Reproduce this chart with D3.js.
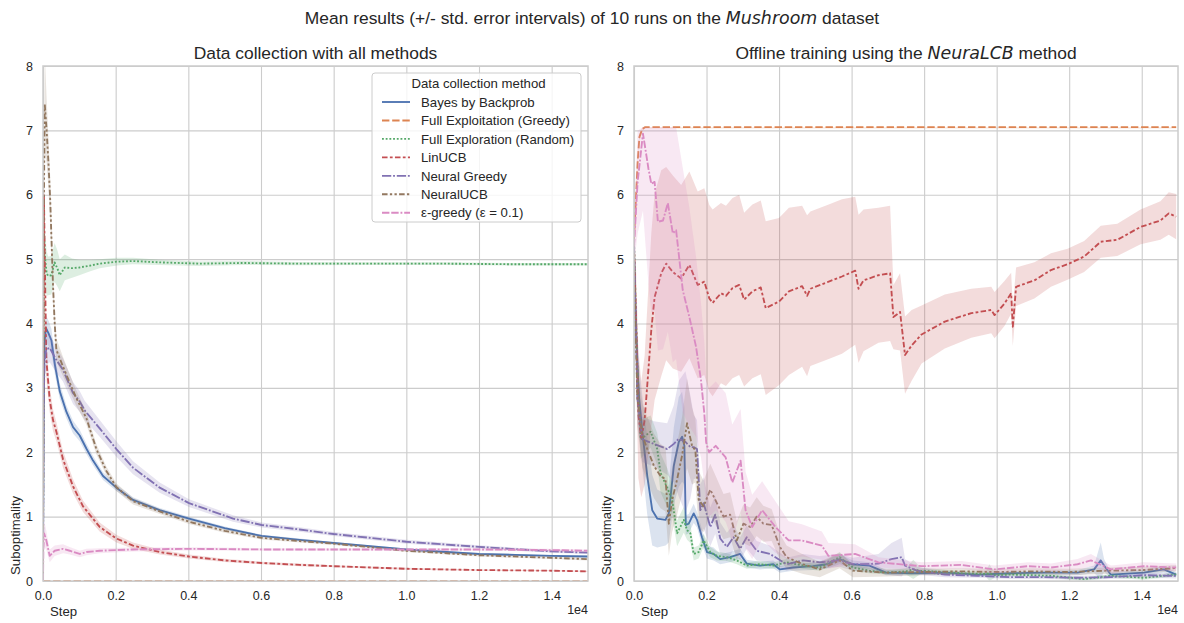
<!DOCTYPE html>
<html><head><meta charset="utf-8">
<script src="https://cdn.jsdelivr.net/npm/d3@7"></script>
<style>
body{margin:0;background:#fff}
svg{display:block}
text{font-family:"Liberation Sans",Arial,sans-serif;fill:#262626}
</style>
</head><body>
<svg id="chart" width="1184" height="623"></svg>
<script>
// ---------- DATA ----------
const methods = ["Bayes by Backprob","Full Exploitation (Greedy)","Full Exploration (Random)","LinUCB","Neural Greedy","NeuralUCB","ε-greedy (ε = 0.1)"];
const xTickValues = [0,2000,4000,6000,8000,10000,12000,14000];
const yTickValues = [0,1,2,3,4,5,6,7,8];
const offlineMax = 7.05;

// [step, mean, std. error] — left panel: data collection
const collectBayes = [[0,0.3,0.3],[15,2.5,0.3],[40,3.7,0.25],[80,3.93,0.2],[150,3.85,0.2],[230,3.74,0.18],[330,3.35,0.15],[460,2.95,0.12],[643,2.63,0.1],[827,2.39,0.1],[1010,2.26,0.09],[1200,2.05,0.08],[1377,1.87,0.07],[1652,1.63,0.06],[2019,1.45,0.05],[2478,1.26,0.04],[3212,1.1,0.035],[4019,0.97,0.03],[5000,0.82,0.025],[6019,0.7,0.02],[7066,0.64,0.02],[8000,0.59,0.015],[9000,0.54,0.015],[10000,0.49,0.015],[11000,0.455,0.015],[12000,0.42,0.015],[13000,0.405,0.015],[14000,0.39,0.015],[15000,0.38,0.015]];
const collectGreedy = [[0,0,0],[5000,0,0],[10000,0,0],[15000,0,0]];
const collectRandom = [[0,0,0],[25,5.4,0.4],[60,5.0,0.4],[100,4.78,0.35],[140,4.74,0.3],[230,4.75,0.3],[320,4.95,0.3],[400,4.85,0.28],[460,4.75,0.25],[600,4.87,0.2],[800,4.86,0.15],[1000,4.87,0.12],[1300,4.9,0.09],[1560,4.93,0.07],[2030,4.96,0.06],[2470,4.97,0.05],[3200,4.95,0.04],[4310,4.93,0.035],[5500,4.94,0.03],[7000,4.93,0.025],[9000,4.93,0.02],[11000,4.93,0.02],[13000,4.92,0.02],[15000,4.92,0.02]];
const collectLinUCB = [[0,0,0],[12,4.0,0.5],[25,6.0,0.5],[60,4.6,0.4],[93,3.43,0.3],[184,2.82,0.2],[275,2.5,0.17],[368,2.32,0.15],[551,1.89,0.13],[827,1.47,0.11],[1101,1.16,0.09],[1560,0.84,0.07],[2019,0.66,0.06],[2478,0.55,0.05],[3212,0.45,0.04],[4019,0.38,0.03],[5000,0.32,0.025],[6019,0.28,0.02],[7066,0.25,0.02],[8000,0.23,0.015],[10000,0.19,0.015],[12000,0.17,0.01],[14000,0.16,0.01],[15000,0.15,0.01]];
const collectNeuralGreedy = [[0,0,0],[15,2.5,0.3],[40,3.4,0.3],[90,3.6,0.25],[184,3.62,0.22],[350,3.45,0.2],[550,3.28,0.18],[826,2.92,0.17],[1010,2.79,0.16],[1148,2.65,0.15],[1560,2.37,0.13],[2019,2.05,0.12],[2478,1.76,0.1],[3212,1.45,0.08],[4019,1.21,0.06],[5229,0.97,0.05],[6019,0.87,0.04],[7064,0.8,0.035],[8000,0.73,0.03],[10000,0.61,0.03],[12000,0.53,0.025],[14000,0.46,0.02],[15000,0.44,0.02]];
const collectNeuralUCB = [[0,0,0],[20,5.5,0.5],[47,7.42,0.8],[100,7.0,0.5],[150,6.5,0.4],[200,5.9,0.35],[240,5.2,0.3],[275,4.6,0.25],[322,4.0,0.2],[368,3.59,0.18],[551,3.33,0.15],[781,3.02,0.13],[918,2.84,0.12],[1193,2.53,0.1],[1469,2.05,0.08],[1744,1.71,0.07],[2019,1.46,0.06],[2478,1.24,0.05],[3212,1.08,0.04],[4019,0.92,0.035],[5000,0.78,0.03],[6019,0.67,0.025],[7066,0.62,0.02],[8000,0.58,0.02],[10000,0.47,0.02],[12000,0.4,0.02],[14000,0.36,0.02],[15000,0.34,0.02]];
const collectEps = [[0,0,0],[10,0.5,0.2],[30,0.74,0.2],[92,0.63,0.15],[184,0.39,0.1],[321,0.47,0.08],[551,0.5,0.07],[735,0.47,0.06],[1010,0.42,0.05],[1193,0.45,0.05],[1560,0.47,0.04],[2478,0.49,0.03],[4019,0.5,0.025],[6019,0.49,0.02],[8000,0.49,0.02],[10000,0.49,0.02],[12000,0.49,0.02],[14000,0.48,0.02],[15000,0.47,0.02]];

// right panel: offline training with NeuraLCB
const offlineBayes = [[0,5.0,0.3],[50,4.0,0.4],[100,3.3,0.5],[140,2.84,0.5],[230,2.32,0.55],[366,1.63,0.6],[503,1.1,0.55],[640,0.97,0.45],[869,0.95,0.4],[960,1.05,0.45],[1098,1.79,0.6],[1235,2.16,0.7],[1326,2.24,0.7],[1390,2.1,0.6],[1427,0.87,0.15],[1509,0.89,0.15],[1646,1.05,0.15],[1737,0.95,0.12],[1874,0.68,0.12],[2012,0.45,0.1],[2195,0.42,0.1],[2378,0.34,0.08],[2652,0.37,0.08],[2926,0.42,0.08],[3109,0.27,0.06],[3475,0.24,0.06],[3841,0.26,0.06],[4024,0.18,0.05],[4390,0.21,0.05],[4938,0.23,0.06],[5304,0.26,0.07],[5670,0.34,0.08],[6036,0.26,0.06],[6493,0.24,0.05],[6950,0.13,0.04],[7656,0.12,0.03],[8570,0.13,0.03],[9485,0.1,0.03],[10400,0.12,0.03],[11315,0.13,0.03],[12230,0.13,0.04],[12687,0.18,0.06],[12870,0.32,0.28],[12961,0.24,0.1],[13144,0.1,0.04],[14059,0.13,0.04],[14608,0.18,0.05],[14950,0.1,0.04]];
const offlineGreedy = [[0,5.3,0.2],[50,5.9,0.15],[100,6.5,0.1],[150,6.9,0.05],[230,7.02,0.03],[300,7.05,0.02],[1000,7.05,0.02],[5000,7.05,0.02],[10000,7.05,0.02],[14950,7.05,0.02]];
const offlineRandom = [[0,5.3,0.3],[80,3.5,0.3],[183,2.2,0.3],[458,2.32,0.25],[640,2.05,0.25],[732,1.68,0.3],[915,1.45,0.3],[1052,1.26,0.25],[1189,0.74,0.2],[1372,0.95,0.2],[1463,0.79,0.15],[1555,0.74,0.15],[1646,0.42,0.1],[1783,0.45,0.1],[1920,0.63,0.1],[2103,0.45,0.08],[2286,0.39,0.07],[2561,0.37,0.06],[2835,0.32,0.06],[3109,0.24,0.05],[3475,0.26,0.05],[3841,0.24,0.05],[4207,0.29,0.05],[4664,0.24,0.05],[5121,0.21,0.05],[5670,0.37,0.08],[6036,0.21,0.05],[6493,0.16,0.04],[6950,0.13,0.03],[7500,0.15,0.05],[7700,0.18,0.15],[7900,0.16,0.05],[9030,0.12,0.03],[9700,0.11,0.04],[9800,0.12,0.14],[9945,0.09,0.04],[10400,0.1,0.03],[11500,0.08,0.03],[12412,0.03,0.03],[13150,0.08,0.03],[14060,0.05,0.03],[14950,0.1,0.03]];
const offlineLinUCB = [[0,5.2,0.3],[60,4.0,0.8],[120,2.6,1.0],[200,2.2,0.9],[293,2.5,1.0],[400,3.3,1.3],[477,3.9,1.5],[568,4.41,1.6],[751,4.78,1.6],[888,4.93,1.5],[1070,4.8,1.5],[1300,4.7,1.45],[1527,4.91,1.45],[1756,4.6,1.45],[1939,4.65,1.45],[2077,4.39,1.45],[2168,4.32,1.45],[2398,4.47,1.4],[2535,4.43,1.4],[2716,4.55,1.4],[2900,4.6,1.4],[3037,4.37,1.35],[3265,4.5,1.35],[3495,4.56,1.35],[3632,4.24,1.35],[3997,4.34,1.3],[4272,4.5,1.3],[4636,4.58,1.25],[4773,4.43,1.25],[4864,4.54,1.2],[5369,4.65,1.2],[5734,4.73,1.2],[6100,4.82,1.15],[6192,4.54,1.15],[6329,4.67,1.1],[6741,4.75,1.05],[7062,4.78,1.05],[7153,4.1,0.5],[7336,4.18,0.6],[7473,3.51,0.6],[7656,3.66,0.55],[7930,3.83,0.45],[8570,4.03,0.42],[9300,4.16,0.38],[9850,4.21,0.36],[9942,4.13,0.36],[10215,4.31,0.35],[10400,4.47,0.32],[10445,3.95,0.3],[10535,4.57,0.3],[11040,4.67,0.28],[11497,4.83,0.26],[11955,4.92,0.24],[12412,5.04,0.24],[12870,5.27,0.25],[13327,5.3,0.25],[13967,5.5,0.27],[14516,5.6,0.3],[14745,5.71,0.33],[14950,5.66,0.35]];
const offlineNeuralGreedy = [[0,5.2,0.3],[50,4.0,0.4],[93,2.84,0.4],[230,2.2,0.35],[549,2.13,0.35],[915,2.05,0.4],[1098,2.13,0.6],[1235,2.21,0.9],[1418,2.16,1.1],[1555,2.08,0.8],[1646,2.08,0.5],[1737,2.05,0.45],[1829,1.1,0.4],[1920,1.21,0.4],[2103,0.84,0.3],[2240,1.03,0.3],[2378,0.66,0.25],[2561,0.53,0.22],[2744,0.68,0.2],[2926,0.5,0.18],[3109,0.68,0.18],[3383,0.47,0.15],[3749,0.42,0.13],[4207,0.26,0.1],[4664,0.32,0.1],[5121,0.29,0.1],[5670,0.32,0.1],[6036,0.26,0.1],[6741,0.27,0.15],[7100,0.34,0.25],[7382,0.37,0.3],[7473,0.24,0.1],[7800,0.16,0.06],[8570,0.1,0.04],[9485,0.08,0.03],[10400,0.06,0.03],[11315,0.06,0.03],[12230,0.05,0.03],[13144,0.06,0.03],[14059,0.09,0.04],[14950,0.08,0.04]];
const offlineNeuralUCB = [[0,5.1,0.3],[50,3.8,0.4],[93,2.84,0.45],[230,2.26,0.5],[366,2.05,0.5],[549,1.79,0.5],[732,1.63,0.5],[869,1.58,0.5],[960,0.89,0.5],[1052,1.26,0.5],[1189,1.58,0.55],[1326,1.95,0.6],[1463,2.45,0.7],[1600,2.1,0.6],[1692,2.03,0.5],[1783,1.26,0.45],[1920,1.16,0.4],[2103,1.42,0.4],[2286,1.21,0.38],[2469,1.0,0.35],[2652,1.03,0.35],[2835,0.63,0.3],[3017,0.89,0.3],[3200,0.84,0.3],[3383,1.0,0.3],[3566,0.89,0.28],[3795,0.87,0.25],[4024,0.53,0.2],[4207,0.37,0.18],[4664,0.26,0.15],[5121,0.18,0.12],[5670,0.32,0.12],[6036,0.16,0.1],[6950,0.13,0.06],[8000,0.14,0.05],[9000,0.15,0.05],[10000,0.14,0.05],[11000,0.15,0.05],[12000,0.14,0.05],[13000,0.16,0.05],[14000,0.17,0.05],[14950,0.2,0.05]];
const offlineEps = [[0,5.2,0.3],[100,6.2,0.8],[247,6.95,1.2],[400,6.4,1.8],[477,6.17,2.0],[568,6.2,2.0],[659,5.58,2.0],[800,5.6,2.0],[933,5.87,2.0],[1070,5.4,2.0],[1161,5.45,2.0],[1344,4.52,1.9],[1527,4.1,1.7],[1710,3.64,1.4],[1847,3.12,1.2],[1939,2.6,1.1],[1990,2.15,1.0],[2070,2.0,1.0],[2253,2.1,1.0],[2527,1.92,1.0],[2710,1.53,0.9],[2939,1.87,0.8],[3076,1.1,0.6],[3259,0.84,0.5],[3533,1.1,0.45],[3899,0.84,0.4],[4265,0.63,0.3],[4631,0.63,0.25],[5180,0.55,0.22],[5363,0.39,0.2],[6095,0.42,0.15],[6741,0.29,0.08],[7930,0.23,0.06],[9030,0.25,0.06],[9945,0.18,0.06],[10860,0.23,0.06],[11500,0.21,0.06],[12230,0.26,0.08],[12600,0.32,0.1],[13150,0.18,0.06],[14060,0.23,0.06],[14950,0.21,0.06]];

// ---------- STYLE ----------
const colors = ["#4c72b0","#dd8452","#55a868","#c44e52","#8172b3","#937860","#da8bc3"];
const dashUnits = [null,[4,1.5],[1,1],[3,1.25,1.5,1.25],[5,1,1,1],[3,1.25,1.25,1.25,1.25,1.25],[4,1,4,1,1,1]];
const LW = 1.85;
const dashStr = i => dashUnits[i] ? dashUnits[i].map(v => (v*LW).toFixed(2)).join(",") : null;

const svg = d3.select("#chart");
const W = 1184;
const plotTop = 66, plotBottom = 581;

// Suptitle
const sup = svg.append("text").attr("x", W/2).attr("y", 24).attr("text-anchor","middle").style("font-size","17.4px");
sup.append("tspan").text("Mean results (+/- std. error intervals) of 10 runs on the ");
sup.append("tspan").style("font-family","'DejaVu Sans'").style("font-style","italic").text("Mushroom");
sup.append("tspan").text(" dataset");

const panels = [
  {x0:43, x1:588, series:[collectBayes,collectGreedy,collectRandom,collectLinUCB,collectNeuralGreedy,collectNeuralUCB,collectEps], bandMax: Infinity,
   title:[["Data collection with all methods",false]], legend:true},
  {x0:634, x1:1178, series:[offlineBayes,offlineGreedy,offlineRandom,offlineLinUCB,offlineNeuralGreedy,offlineNeuralUCB,offlineEps], bandMax: offlineMax,
   title:[["Offline training using the ",false],["NeuraLCB",true],[" method",false]], legend:false}
];

panels.forEach((p, pi) => {
  const x = d3.scaleLinear().domain([0, 15000]).range([p.x0, p.x1]);
  const y = d3.scaleLinear().domain([0, 8]).range([plotBottom, plotTop]);
  const g = svg.append("g");

  // grid + tick labels
  const xa = g.append("g").attr("transform", `translate(0,${plotBottom})`)
    .call(d3.axisBottom(x).tickValues(xTickValues).tickSize(-(plotBottom-plotTop)).tickPadding(10).tickFormat(d => (d/1e4).toFixed(1)));
  const ya = g.append("g").attr("transform", `translate(${p.x0},0)`)
    .call(d3.axisLeft(y).tickValues(yTickValues).tickSize(-(p.x1-p.x0)).tickPadding(10).tickFormat(d3.format("d")));
  [xa, ya].forEach(a => {
    a.select(".domain").remove();
    a.selectAll(".tick line").attr("stroke","#cccccc").attr("stroke-width",1.1);
    a.selectAll(".tick text").style("font-size","12.5px").attr("fill","#262626").style("font-family","'Liberation Sans',Arial,sans-serif");
  });

  // clip
  const cid = "clip" + pi;
  svg.append("clipPath").attr("id", cid).append("rect")
    .attr("x", p.x0).attr("y", plotTop).attr("width", p.x1-p.x0).attr("height", plotBottom-plotTop);
  const dg = g.append("g").attr("clip-path", `url(#${cid})`);

  const line = d3.line().x(d => x(d[0])).y(d => y(d[1]));
  const area = d3.area().x(d => x(d[0]))
    .y0(d => y(Math.max(0, d[1]-d[2])))
    .y1(d => y(Math.min(p.bandMax, d[1]+d[2])));

  p.series.forEach((s, i) => {
    const path = dg.append("path").datum(s).attr("d", line)
      .attr("fill","none").attr("stroke", colors[i]).attr("stroke-width", LW)
      .attr("stroke-linejoin","round");
    const ds = dashStr(i);
    if (ds) path.attr("stroke-dasharray", ds);
    dg.append("path").datum(s).attr("d", area).attr("fill", colors[i]).attr("fill-opacity", 0.2).attr("stroke","none");
  });

  // frame
  g.append("rect").attr("x", p.x0).attr("y", plotTop).attr("width", p.x1-p.x0).attr("height", plotBottom-plotTop)
    .attr("fill","none").attr("stroke","#cccccc").attr("stroke-width",1.5);

  // subtitle
  const t = svg.append("text").attr("x", (p.x0+p.x1)/2).attr("y", 59).attr("text-anchor","middle").style("font-size","17.4px");
  p.title.forEach(([txt, it]) => {
    const ts = t.append("tspan").text(txt);
    if (it) ts.style("font-family","'DejaVu Sans'").style("font-style","italic");
  });

  // axis labels
  svg.append("text").attr("x", p.x0 + 7).attr("y", 616).style("font-size","13.2px").text("Step");
  svg.append("text").attr("transform", `translate(${p.x0 - 23},575) rotate(-90)`).style("font-size","13.2px").text("Suboptimality");
  svg.append("text").attr("x", p.x1).attr("y", 614).attr("text-anchor","end").style("font-size","12.5px").text("1e4");

  if (p.legend) {
    const lx = 372, ly = 73, lw = 209, lh = 149;
    const lg = svg.append("g");
    lg.append("rect").attr("x", lx).attr("y", ly).attr("width", lw).attr("height", lh).attr("rx", 3)
      .attr("fill","#ffffff").attr("fill-opacity",0.8).attr("stroke","#cccccc").attr("stroke-width",1);
    lg.append("text").attr("x", lx + lw/2 + 2).attr("y", ly + 15).attr("text-anchor","middle").style("font-size","13.2px").text("Data collection method");
    methods.forEach((m, i) => {
      const cy = 102 + i*18.45;
      const ln = lg.append("line").attr("x1", 382).attr("x2", 410).attr("y1", cy).attr("y2", cy)
        .attr("stroke", colors[i]).attr("stroke-width", LW);
      const ds = dashStr(i);
      if (ds) ln.attr("stroke-dasharray", ds);
      lg.append("text").attr("x", 421).attr("y", cy + 4.7).style("font-size","13.2px").text(m);
    });
  }
});
</script>
</body></html>
